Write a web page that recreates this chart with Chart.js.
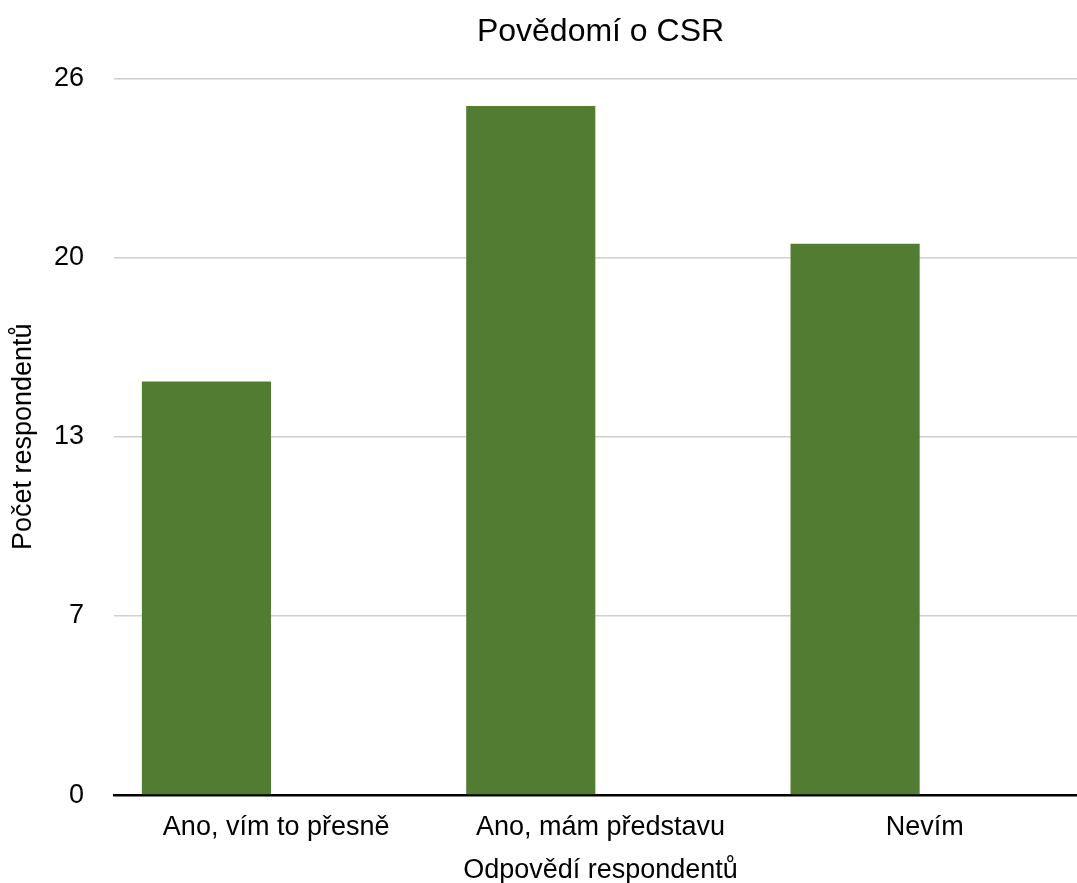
<!DOCTYPE html>
<html>
<head>
<meta charset="utf-8">
<script src="https://cdn.jsdelivr.net/npm/chart.js@4.4.1/dist/chart.umd.min.js"></script>
<style>
  html, body { margin: 0; padding: 0; background: #fff; overflow: hidden; }
  #wrap { width: 1087px; height: 883px; position: relative; }
</style>
</head>
<body>
<div id="wrap"><canvas id="chart"></canvas></div>
<script>
const categories = ["Ano, vím to přesně", "Ano, mám představu", "Nevím"];
const respondents = [15, 25, 20];
// the source chart has a second, empty series next to each bar
const emptySeries = [null, null, null];
const yTicks = [0, 6.5, 13, 19.5, 26];

const font = "'Liberation Sans', Arial, Helvetica, sans-serif";

new Chart(document.getElementById("chart"), {
  type: "bar",
  data: {
    labels: categories,
    datasets: [
      {
        label: "Počet respondentů",
        data: respondents,
        backgroundColor: "#537c33",
        borderWidth: 0,
        categoryPercentage: 0.86,
        barPercentage: 0.926,
      },
      {
        label: "",
        data: emptySeries,
        backgroundColor: "#537c33",
        categoryPercentage: 0.86,
        barPercentage: 0.926,
      },
    ],
  },
  options: {
    responsive: true,
    maintainAspectRatio: false,
    animation: false,
    layout: { padding: 0 },
    plugins: {
      legend: { display: false },
      tooltip: { enabled: false },
      title: {
        display: true,
        text: "Povědomí o CSR",
        fullSize: false,
        color: "#000",
        font: { family: font, size: 32, weight: "normal", lineHeight: 1.2 },
        padding: { top: 13, bottom: 27 },
      },
    },
    scales: {
      x: {
        grid: { display: false, drawTicks: false },
        border: { display: true, color: "#000", width: 2.5 },
        ticks: {
          color: "#000",
          padding: 16,
          maxRotation: 0,
          font: { family: font, size: 27, lineHeight: 1.2 },
        },
        title: {
          display: true,
          text: "Odpovědí respondentů",
          color: "#000",
          font: { family: font, size: 27, lineHeight: 1 },
          padding: { top: -2, bottom: -1.5 },
        },
      },
      y: {
        min: 0,
        max: 26,
        afterBuildTicks: (axis) => {
          axis.ticks = yTicks.map((v) => ({ value: v }));
        },
        afterFit: (axis) => {
          axis.width = 114;
        },
        grid: {
          drawTicks: false,
          color: "#cfcfcf",
          lineWidth: 1.5,
        },
        border: { display: false },
        ticks: {
          color: "#000",
          padding: 30,
          font: { family: font, size: 27, lineHeight: 1.2 },
          callback: (v) => Math.round(v),
        },
        title: {
          display: true,
          text: "Počet respondentů",
          color: "#000",
          font: { family: font, size: 27, lineHeight: 1 },
          padding: { top: 10, bottom: 0 },
        },
      },
    },
  },
});
</script>
</body>
</html>
